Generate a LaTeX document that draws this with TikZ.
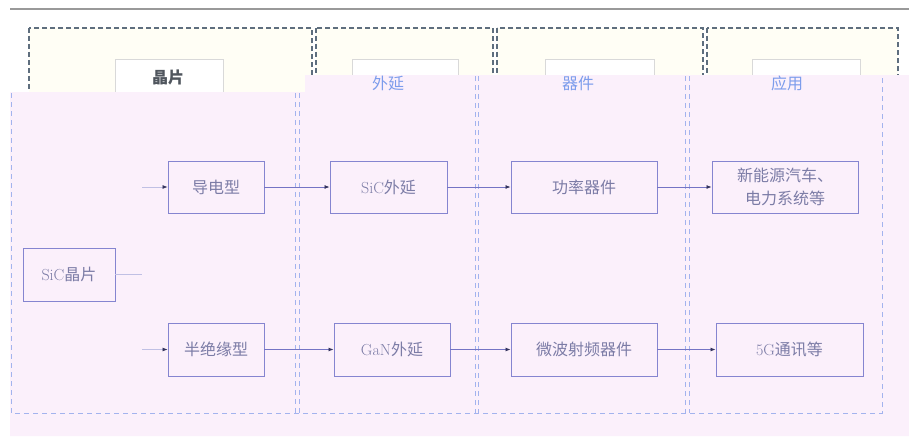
\documentclass[tikz,border=0pt]{standalone}
\usepackage{fontspec}
\usepackage{xcolor}
\usepackage{tikz}
\usetikzlibrary{arrows.meta}
\newfontfamily\cjk{Noto Sans CJK SC}

\definecolor{pinkbg}{HTML}{FBF0FB}
\definecolor{boxline}{HTML}{8585D0}
\definecolor{boxtext}{HTML}{7C7CA6}
\definecolor{arrowline}{HTML}{7474C4}
\definecolor{tipcol}{HTML}{34345E}
\definecolor{colline}{HTML}{A3B3EE}
\definecolor{headdash}{HTML}{5E6E7E}
\definecolor{headtext}{HTML}{50565E}
\definecolor{headblue}{HTML}{7C9CEC}

\tikzset{
  stage/.style={draw=boxline, line width=0.9pt, fill=pinkbg, text=boxtext,
    font=\fontsize{16}{23}\selectfont, inner sep=0pt, align=center},
  flow/.style={draw=arrowline, line width=0.8pt,
    -{Latex[length=5pt,width=4pt,color=tipcol]}},
  faint/.style={draw=arrowline!45, line width=0.7pt},
  coldash/.style={draw=colline, line width=0.8pt, dash pattern=on 5pt off 4pt},
  headcol/.style={draw=headdash, line width=1.1pt, dash pattern=on 5pt off 3pt, fill=white!96!yellow},
  headbox/.style={draw=black!15, line width=0.8pt, fill=white},
  headlabel/.style={font=\cjk\fontsize{16}{18}\selectfont},
}

\begin{document}
\begin{tikzpicture}[x=1pt, y=-1pt]
  \useasboundingbox (0,0) rectangle (909,436);
  \fill[white] (0,0) rectangle (909,436);
  % top rule
  \draw[black!40, line width=1.6pt] (10,9) -- (909,9);
  % header columns
  \draw[headcol] (29,28) rectangle (312,130);
  \draw[headcol] (316,28) rectangle (493,130);
  \draw[headcol] (497,28) rectangle (703,130);
  \draw[headcol] (707,28) rectangle (898,130);
  \draw[headbox] (115,59) rectangle (223,120);
  \draw[headbox] (352,59) rectangle (458,120);
  \draw[headbox] (545,59) rectangle (654,120);
  \draw[headbox] (752,59) rectangle (860,120);
  \node[text=headtext, font={\cjk\fontsize{16}{18}\selectfont\bfseries}] (hwafer) at (168,77) {晶片};
  % overlay
  \fill[pinkbg] (10,92) -- (305,92) -- (305,75) -- (909,75) -- (909,436) -- (10,436) -- cycle;
  \node[headlabel, text=headblue] (hepi) at (388,83) {外延};
  \node[headlabel, text=headblue] (hdev) at (578,83) {器件};
  \node[headlabel, text=headblue] (happ) at (787,83) {应用};
  % column lines
  \draw[coldash] (11,93) -- (11,413) -- (882,413) -- (882,76);
  \draw[coldash] (295,93) -- (295,413);
  \draw[coldash] (299,93) -- (299,413);
  \draw[coldash] (475,76) -- (475,413);
  \draw[coldash] (478,76) -- (478,413);
  \draw[coldash] (685,76) -- (685,413);
  \draw[coldash] (689,76) -- (689,413);

  % stages
  \node[stage, minimum width=92pt, minimum height=53pt] (wafer) at (69,274.5) {SiC{\cjk 晶片}};
  \node[stage, minimum width=96pt, minimum height=52pt] (cond) at (216,187) {\cjk 导电型};
  \node[stage, minimum width=117pt, minimum height=52pt] (sicepi) at (388.5,187) {SiC{\cjk 外延}};
  \node[stage, minimum width=146pt, minimum height=52pt] (power) at (584,187) {\cjk 功率器件};
  \node[stage, minimum width=146pt, minimum height=52pt] (ev) at (785,187) {\cjk 新能源汽车、\\\cjk 电力系统等};
  \node[stage, minimum width=96pt, minimum height=53pt] (semi) at (216,349.5) {\cjk 半绝缘型};
  \node[stage, minimum width=116pt, minimum height=53pt] (ganepi) at (392,349.5) {GaN{\cjk 外延}};
  \node[stage, minimum width=146pt, minimum height=53pt] (rf) at (584,349.5) {\cjk 微波射频器件};
  \node[stage, minimum width=147pt, minimum height=53pt] (fiveg) at (789.5,349.5) {5G{\cjk 通讯等}};

  % split
  \coordinate (split) at (142,274.5);
  \coordinate (up) at (142,187);
  \coordinate (down) at (142,349.5);
  \draw[faint] (wafer.east) -- (split);
  \draw[faint, -{Latex[length=5pt,width=4pt,color=tipcol]}] (up) -- (cond.west);
  \draw[faint, -{Latex[length=5pt,width=4pt,color=tipcol]}] (down) -- (semi.west);

  % flows
  \draw[flow] (cond) -- (sicepi);
  \draw[flow] (sicepi) -- (power);
  \draw[flow] (power) -- (ev);
  \draw[flow] (semi) -- (ganepi);
  \draw[flow] (ganepi) -- (rf);
  \draw[flow] (rf) -- (fiveg);
\end{tikzpicture}
\end{document}
